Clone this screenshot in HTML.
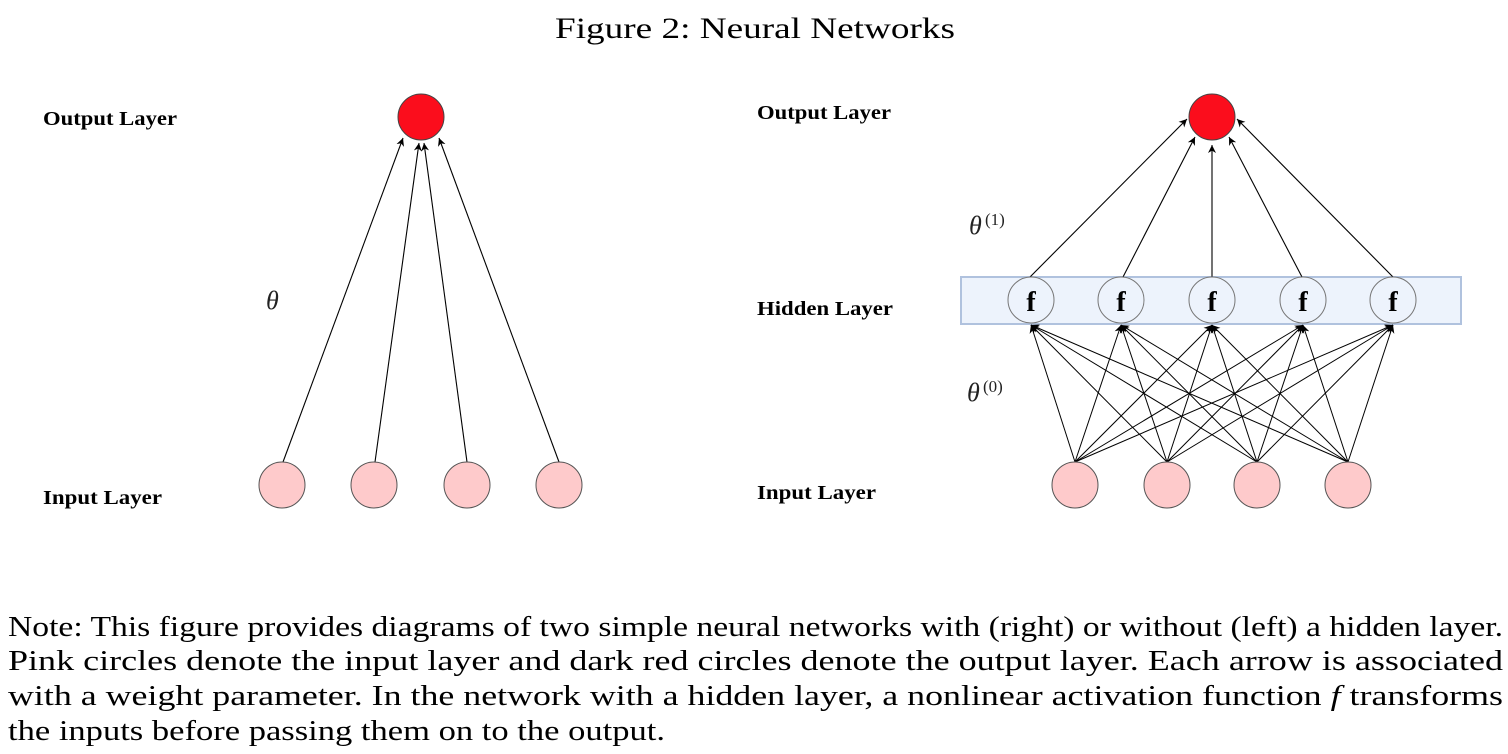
<!DOCTYPE html>
<html><head><meta charset="utf-8"><style>
html,body{margin:0;padding:0;background:#fff;}
svg{display:block;}
</style></head><body>
<svg width="1508" height="754" viewBox="0 0 1508 754" xmlns="http://www.w3.org/2000/svg">
<defs>
<marker id="a" viewBox="0 0 10 10" refX="10" refY="5" markerWidth="8" markerHeight="8" orient="auto" markerUnits="userSpaceOnUse">
<path d="M0,0 L10,5 L0,10 L3,5 z" fill="#000"/>
</marker>
</defs>
<text x="755" y="38" font-family="Liberation Serif, serif" font-size="30" text-anchor="middle" textLength="400" lengthAdjust="spacingAndGlyphs">Figure 2: Neural Networks</text>

<g font-family="Liberation Serif, serif" font-weight="bold" font-size="20">
<text x="43" y="125" textLength="134" lengthAdjust="spacingAndGlyphs">Output Layer</text>
<text x="43" y="504" textLength="119" lengthAdjust="spacingAndGlyphs">Input Layer</text>
<text x="757" y="119" textLength="134" lengthAdjust="spacingAndGlyphs">Output Layer</text>
<text x="757" y="315" textLength="136" lengthAdjust="spacingAndGlyphs">Hidden Layer</text>
<text x="757" y="499" textLength="119" lengthAdjust="spacingAndGlyphs">Input Layer</text>
</g>
<g font-family="Liberation Serif, serif" font-style="italic" font-size="26" fill="#222">
<text x="266" y="309">θ</text>
<text x="969" y="234">θ</text>
<text x="967" y="401">θ</text>
</g>
<g font-family="Liberation Serif, serif" font-size="17" fill="#222">
<text x="985" y="225">(1)</text>
<text x="983" y="392">(0)</text>
</g>

<!-- Left network -->
<g stroke="#000" stroke-width="1.1" marker-end="url(#a)">
<line x1="283" y1="462" x2="403" y2="138"/>
<line x1="375" y1="462" x2="419" y2="143"/>
<line x1="467" y1="462" x2="424" y2="143"/>
<line x1="559" y1="462" x2="439" y2="138"/>
</g>
<circle cx="421" cy="117" r="23" fill="#fb0d1c" stroke="#444" stroke-width="1"/>
<g fill="#fecacb" stroke="#555" stroke-width="1">
<circle cx="282" cy="485" r="23"/><circle cx="374" cy="485" r="23"/>
<circle cx="467" cy="485" r="23"/><circle cx="559" cy="485" r="23"/>
</g>

<!-- Right network -->
<rect x="961" y="277" width="500" height="47" fill="#edf3fc" stroke="#b0c2de" stroke-width="2"/>
<g stroke="#000" stroke-width="1.1" marker-end="url(#a)">
<line x1="1030" y1="277" x2="1187" y2="119"/>
<line x1="1123" y1="277" x2="1195" y2="137"/>
<line x1="1212" y1="277" x2="1212" y2="145"/>
<line x1="1302" y1="277" x2="1229" y2="137"/>
<line x1="1393" y1="277" x2="1237" y2="119"/>
</g>
<g stroke="#000" stroke-width="1" marker-end="url(#a)">
<line x1="1075" y1="462" x2="1031" y2="325"/>
<line x1="1075" y1="462" x2="1121" y2="325"/>
<line x1="1075" y1="462" x2="1212" y2="325"/>
<line x1="1075" y1="462" x2="1303" y2="325"/>
<line x1="1075" y1="462" x2="1393" y2="325"/>
<line x1="1167" y1="462" x2="1031" y2="325"/>
<line x1="1167" y1="462" x2="1121" y2="325"/>
<line x1="1167" y1="462" x2="1212" y2="325"/>
<line x1="1167" y1="462" x2="1303" y2="325"/>
<line x1="1167" y1="462" x2="1393" y2="325"/>
<line x1="1257" y1="462" x2="1031" y2="325"/>
<line x1="1257" y1="462" x2="1121" y2="325"/>
<line x1="1257" y1="462" x2="1212" y2="325"/>
<line x1="1257" y1="462" x2="1303" y2="325"/>
<line x1="1257" y1="462" x2="1393" y2="325"/>
<line x1="1348" y1="462" x2="1031" y2="325"/>
<line x1="1348" y1="462" x2="1121" y2="325"/>
<line x1="1348" y1="462" x2="1212" y2="325"/>
<line x1="1348" y1="462" x2="1303" y2="325"/>
<line x1="1348" y1="462" x2="1393" y2="325"/>
</g>
<g fill="#edf3fc" stroke="#777" stroke-width="1">
<circle cx="1031" cy="300" r="23"/><circle cx="1121" cy="300" r="23"/>
<circle cx="1212" cy="300" r="23"/><circle cx="1303" cy="300" r="23"/>
<circle cx="1393" cy="300" r="23"/>
</g>
<g font-family="Liberation Serif, serif" font-weight="bold" font-size="28" text-anchor="middle">
<text x="1031" y="311">f</text><text x="1121" y="311">f</text><text x="1212" y="311">f</text>
<text x="1303" y="311">f</text><text x="1393" y="311">f</text>
</g>
<circle cx="1212" cy="117" r="23" fill="#fb0d1c" stroke="#444" stroke-width="1"/>
<g fill="#fecacb" stroke="#555" stroke-width="1">
<circle cx="1075" cy="485" r="23"/><circle cx="1167" cy="485" r="23"/>
<circle cx="1257" cy="485" r="23"/><circle cx="1348" cy="485" r="23"/>
</g>

<!-- Caption -->
<g font-family="Liberation Serif, serif" font-size="29" fill="#000">
<text x="8" y="636" textLength="1495" lengthAdjust="spacingAndGlyphs">Note: This figure provides diagrams of two simple neural networks with (right) or without (left) a hidden layer.</text>
<text x="8" y="670" textLength="1495" lengthAdjust="spacingAndGlyphs">Pink circles denote the input layer and dark red circles denote the output layer. Each arrow is associated</text>
<text x="8" y="705" textLength="1495" lengthAdjust="spacingAndGlyphs">with a weight parameter. In the network with a hidden layer, a nonlinear activation function <tspan font-style="italic">f</tspan> transforms</text>
<text x="8" y="740" textLength="657" lengthAdjust="spacingAndGlyphs">the inputs before passing them on to the output.</text>
</g>
</svg>
</body></html>
